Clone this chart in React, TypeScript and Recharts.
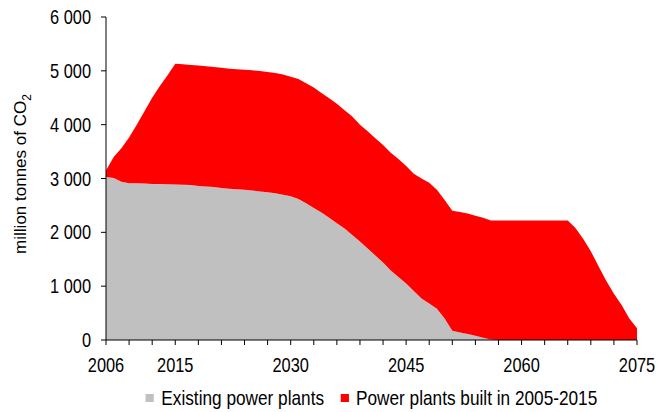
import React from 'react';
import { AreaChart, Area, XAxis, YAxis, Legend } from 'recharts';

const years = [
  2006, 2007, 2008, 2009, 2010, 2011, 2012, 2013, 2014, 2015,
  2016, 2017, 2018, 2019, 2020, 2021, 2022, 2023, 2024, 2025,
  2026, 2027, 2028, 2029, 2030, 2031, 2032, 2033, 2034, 2035,
  2036, 2037, 2038, 2039, 2040, 2041, 2042, 2043, 2044, 2045,
  2046, 2047, 2048, 2049, 2050, 2051, 2052, 2053, 2054, 2055,
  2056, 2057, 2058, 2059, 2060, 2061, 2062, 2063, 2064, 2065,
  2066, 2067, 2068, 2069, 2070, 2071, 2072, 2073, 2074, 2075
];

// existing power plants (grey)
const existingPlants = [
  3030, 3010, 2940, 2910, 2910, 2905, 2900, 2900, 2895, 2890,
  2885, 2880, 2860, 2850, 2840, 2825, 2810, 2800, 2790, 2775,
  2760, 2745, 2725, 2700, 2670, 2620, 2540, 2450, 2370, 2270,
  2170, 2070, 1950, 1830, 1700, 1570, 1440, 1290, 1170, 1050,
  910, 770, 680, 580, 400, 170, 140, 110, 80, 40,
  10, 0, 0, 0, 0, 0, 0, 0, 0, 0,
  0, 0, 0, 0, 0, 0, 0, 0, 0, 0
];

// plants built in 2005-2015 (red, stacked on top)
const newPlants = [
  120, 390, 620, 850, 1090, 1345, 1600, 1820, 2025, 2240,
  2235, 2230, 2240, 2235, 2230, 2230, 2230, 2230, 2230, 2235,
  2235, 2235, 2235, 2230, 2220, 2230, 2230, 2240, 2220, 2220,
  2220, 2200, 2200, 2170, 2180, 2180, 2180, 2190, 2190, 2180,
  2180, 2230, 2240, 2210, 2200, 2230, 2240, 2240, 2230, 2230,
  2210, 2220, 2220, 2220, 2220, 2220, 2220, 2220, 2220, 2220,
  2220, 2080, 1880, 1650, 1370, 1100, 860, 650, 400, 220
];

const xTicks = [
  2006, 2009, 2012, 2015, 2018, 2021, 2024, 2027, 2030, 2033, 2036, 2039,
  2042, 2045, 2048, 2051, 2054, 2057, 2060, 2063, 2066, 2069, 2072, 2075
];
const xLabels = [2006, 2015, 2030, 2045, 2060, 2075];
const yTicks = [0, 1000, 2000, 3000, 4000, 5000, 6000];

const seriesNames = ['Existing power plants', 'Power plants built in 2005-2015'];
const seriesColors = ['#C0C0C0', '#FF0000'];

const data = years.map((year, i) => ({
  year,
  existing: existingPlants[i],
  built: newPlants[i]
}));

// no narrow font installed, so squeeze Liberation Sans horizontally
const SANS = "'Liberation Sans', Arial, sans-serif";
const SQUEEZE = 0.82;

const formatThousands = (v: number) =>
  v.toString().replace(/\B(?=(\d{3})+(?!\d))/g, ' ');

const XTick = ({ x, y, payload }: any) => {
  if (!xLabels.includes(payload.value)) return null;
  return (
    <text
      transform={`translate(${x}, ${y + 25}) scale(${SQUEEZE}, 1)`}
      textAnchor="middle"
      fontFamily={SANS}
      fontSize={20}
      fill="#000"
    >
      {payload.value}
    </text>
  );
};

const YTick = ({ x, y, payload }: any) => (
  <text
    transform={`translate(${x - 8}, ${y + 7}) scale(${SQUEEZE}, 1)`}
    textAnchor="end"
    fontFamily={SANS}
    fontSize={20}
    fill="#000"
  >
    {formatThousands(payload.value)}
  </text>
);

const YTitle = () => (
  <text
    x={0}
    y={0}
    transform="translate(26, 174) rotate(-90)"
    textAnchor="middle"
    fontFamily={SANS}
    fontSize={17}
    fill="#000"
  >
    million tonnes of CO
    <tspan fontSize={12} dy={5}>2</tspan>
  </text>
);

const LegendContent = () => (
  <div
    style={{
      display: 'flex',
      justifyContent: 'center',
      alignItems: 'center',
      fontFamily: SANS,
      fontSize: 21,
      color: '#000',
      whiteSpace: 'nowrap',
      transform: `scaleX(${SQUEEZE})`,
      transformOrigin: 'center'
    }}
  >
    {seriesNames.map((name, i) => (
      <div key={name} style={{ display: 'flex', alignItems: 'center', marginRight: i === 0 ? 20 : 0 }}>
        <span
          style={{ display: 'inline-block', width: 10, height: 8, background: seriesColors[i], marginRight: 9 }}
        />
        <span>{name}</span>
      </div>
    ))}
  </div>
);

export default function App() {
  return (
    <div style={{ position: 'absolute', left: 0, top: 0, width: 658, height: 412, background: '#fff' }}>
      <AreaChart
        width={658}
        height={412}
        data={data}
        margin={{ top: 17, right: 21, left: 0, bottom: 42 }}
      >
        <XAxis
          dataKey="year"
          type="number"
          domain={[2006, 2075]}
          ticks={xTicks}
          interval={0}
          height={30}
          axisLine={{ stroke: '#000', strokeWidth: 1 }}
          tickLine={{ stroke: '#000' }}
          tickSize={5}
          tick={<XTick />}
        />
        <XAxis
          xAxisId="top"
          orientation="top"
          type="number"
          domain={[2006, 2075]}
          height={0}
          tick={false}
          tickLine={false}
          axisLine={{ stroke: '#000', strokeWidth: 1 }}
        />
        <YAxis
          domain={[0, 6000]}
          ticks={yTicks}
          interval={0}
          width={106}
          axisLine={{ stroke: '#000', strokeWidth: 1 }}
          tickLine={{ stroke: '#000' }}
          tickSize={5}
          tick={<YTick />}
          label={<YTitle />}
        />
        <YAxis
          yAxisId="right"
          orientation="right"
          domain={[0, 6000]}
          width={0}
          tick={false}
          tickLine={false}
          axisLine={{ stroke: '#808080', strokeWidth: 2 }}
        />
        <Legend
          layout="horizontal"
          verticalAlign="middle"
          align="center"
          wrapperStyle={{ top: 386, left: 106, width: 531 }}
          content={<LegendContent />}
        />
        <Area
          type="linear"
          dataKey="existing"
          name={seriesNames[0]}
          stackId="co2"
          stroke="none"
          fill={seriesColors[0]}
          fillOpacity={1}
          isAnimationActive={false}
        />
        <Area
          type="linear"
          dataKey="built"
          name={seriesNames[1]}
          stackId="co2"
          stroke="none"
          fill={seriesColors[1]}
          fillOpacity={1}
          isAnimationActive={false}
        />
      </AreaChart>
    </div>
  );
}
